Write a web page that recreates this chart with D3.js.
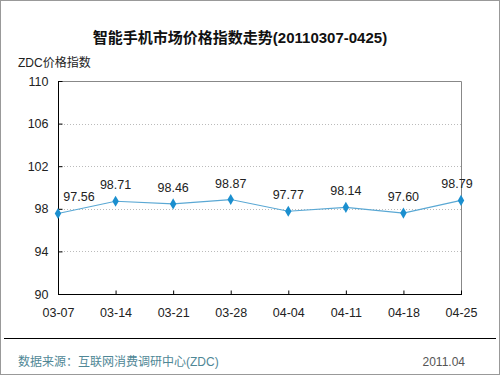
<!DOCTYPE html>
<html lang="zh">
<head>
<meta charset="UTF-8">
<script src="https://d3js.org/d3.v7.min.js"></script>
<style>
  body { margin: 0; background: #fff; }
  svg { display: block; font-family: Arial, "Liberation Sans", "Noto Sans CJK SC", sans-serif; }
</style>
</head>
<body>
<svg width="500" height="375"></svg>
<script>
// chart data
const dates = ["03-07", "03-14", "03-21", "03-28", "04-04", "04-11", "04-18", "04-25"];
const values = [97.56, 98.71, 98.46, 98.87, 97.77, 98.14, 97.60, 98.79];
const yTicks = [90, 94, 98, 102, 106, 110];

const svg = d3.select("svg");
const W = 500, H = 375;
const plot = { left: 58, right: 461, top: 81, bottom: 294 };

// outer frame
svg.append("rect")
  .attr("x", 0.5).attr("y", 0.5)
  .attr("width", W - 1).attr("height", H - 1)
  .attr("fill", "#fff").attr("stroke", "#999");

svg.append("text")
  .attr("x", 240).attr("y", 43)
  .attr("text-anchor", "middle")
  .style("font-size", "15px").style("font-weight", "bold")
  .style("fill", "#111")
  .text("智能手机市场价格指数走势(20110307-0425)");

svg.append("text")
  .attr("x", 18).attr("y", 67)
  .style("font-size", "12px").style("fill", "#222")
  .text("ZDC价格指数");

const x = d3.scalePoint().domain(dates).range([plot.left, plot.right]);
const y = d3.scaleLinear().domain([90, 110]).range([plot.bottom, plot.top]);

// grid
svg.append("g").selectAll("line")
  .data(yTicks.filter(d => d > 90 && d < 110))
  .join("line")
  .attr("x1", plot.left).attr("x2", plot.right)
  .attr("y1", d => Math.round(y(d)) + 0.5).attr("y2", d => Math.round(y(d)) + 0.5)
  .attr("stroke", "#bbb").attr("stroke-dasharray", "1,2");

// top and right border
svg.append("path")
  .attr("d", `M${plot.left},${plot.top + 0.5}H${plot.right + 0.5}V${plot.bottom}`)
  .attr("fill", "none").attr("stroke", "#888");

// y axis
const yAxis = svg.append("g")
  .attr("transform", `translate(${plot.left + 0.5},0)`)
  .call(d3.axisLeft(y).tickValues(yTicks).tickSize(4).tickPadding(10));
yAxis.select(".domain").attr("stroke", "#000").attr("d", `M0,${plot.top}V${plot.bottom}`);
yAxis.selectAll(".tick line").attr("x2", 4).attr("x1", 0).attr("stroke", "#000");
yAxis.selectAll("text").style("font-size", "12.5px").style("fill", "#222").attr("x", -10);

// x axis
const xAxis = svg.append("g")
  .attr("transform", `translate(0,${plot.bottom + 0.5})`)
  .call(d3.axisBottom(x).tickSize(-4).tickPadding(14));
xAxis.select(".domain").attr("stroke", "#000").attr("d", `M${plot.left},0H${plot.right + 1}`);
xAxis.selectAll(".tick line").attr("stroke", "#000");
xAxis.selectAll("text").style("font-size", "12.5px").style("fill", "#222");

// series line
const pts = dates.map((d, i) => ({ d, v: values[i] }));
svg.append("path")
  .datum(pts)
  .attr("fill", "none")
  .attr("stroke", "#5aa8d4")
  .attr("stroke-width", 1.2)
  .attr("d", d3.line().x(p => x(p.d)).y(p => y(p.v)));

svg.append("g").selectAll("path")
  .data(pts)
  .join("path")
  .attr("transform", p => `translate(${x(p.d)},${y(p.v)})`)
  .attr("d", d3.symbol(d3.symbolDiamond, 36))
  .attr("fill", "#1b8fcf");

const last = dates.length - 1;
svg.append("g").selectAll("text")
  .data(pts)
  .join("text")
  .attr("x", (p, i) => i === 0 ? x(p.d) + 21 : i === last ? x(p.d) - 4 : x(p.d))
  .attr("y", p => y(p.v) - 12)
  .attr("text-anchor", "middle")
  .style("font-size", "12.5px").style("fill", "#222")
  .text(p => p.v.toFixed(2));

// footer
svg.append("line")
  .attr("x1", 4).attr("x2", 496)
  .attr("y1", 338.5).attr("y2", 338.5)
  .attr("stroke", "#000");

svg.append("text")
  .attr("x", 18).attr("y", 366)
  .style("font-size", "12px").style("fill", "#4f8796")
  .text("数据来源：互联网消费调研中心(ZDC)");

svg.append("text")
  .attr("x", 465).attr("y", 366)
  .attr("text-anchor", "end")
  .style("font-size", "12px").style("fill", "#555")
  .text("2011.04");
</script>
</body>
</html>
